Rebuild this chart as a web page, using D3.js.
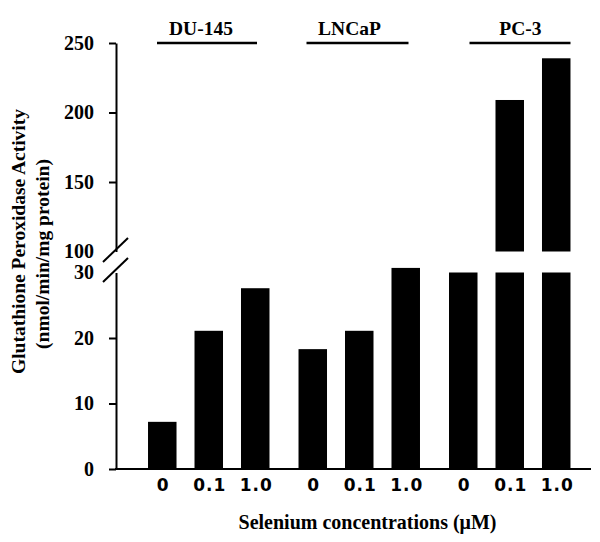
<!DOCTYPE html>
<html>
<head>
<meta charset="utf-8">
<script src="https://cdn.jsdelivr.net/npm/d3@7"></script>
<style>
  html, body { margin: 0; padding: 0; background: #fff; }
  svg { display: block; }
  .serif { font-family: "Liberation Serif", "Times New Roman", serif; font-weight: bold; fill: #000; }
  .sans { font-family: "DejaVu Sans", "Liberation Sans", Arial, sans-serif; font-weight: bold; fill: #000; }
</style>
</head>
<body>
<svg id="chart" width="600" height="542"></svg>
<script>
// ---- data ----
const groups = ["DU-145", "LNCaP", "PC-3"];
const concentrations = ["0", "0.1", "1.0"];
const du145 = [7.2, 21.1, 27.6];
const lncap = [18.3, 21.1, 30.7];
const pc3 = [35, 209, 239];
const lowerTicks = [0, 10, 20, 30];
const upperTicks = [100, 150, 200, 250];
const breakLow = 30;
const breakHigh = 100;
const yTitleLines = ["Glutathione Peroxidase Activity", "(nmol/min/mg protein)"];
const xTitle = "Selenium concentrations (\u03BCM)";

const seriesByGroup = [du145, lncap, pc3];
const rows = [];
groups.forEach((g, gi) => concentrations.forEach((c, ci) => rows.push({ group: g, conc: c, value: seriesByGroup[gi][ci] })));

// ---- layout ----
const axisX = 116;
const xAxisEnd = 591;
const lowerPanelMax = 31;   // values above this are drawn broken
const svg = d3.select("#chart");

const yLow = d3.scaleLinear().domain([0, 30]).range([469, 272.5]);
const yUp = d3.scaleLinear().domain([100, 250]).range([251.5, 43]);

const xGroup = d3.scaleBand().domain(groups).range([139, 579.5]).paddingInner(0.073);
const xInner = d3.scaleBand().domain(concentrations).range([0, xGroup.bandwidth()]).paddingInner(0.387).paddingOuter(0.194);
const barX = d => xGroup(d.group) + xInner(d.conc);
const bw = xInner.bandwidth();
const lowTop = v => v > lowerPanelMax ? breakLow : v;

// bars: lower segment
svg.append("g").selectAll("rect").data(rows).join("rect")
  .attr("x", barX)
  .attr("width", bw)
  .attr("y", d => yLow(lowTop(d.value)))
  .attr("height", d => yLow(0) - yLow(lowTop(d.value)))
  .attr("fill", "#000");

// bars: upper segment
svg.append("g").selectAll("rect").data(rows.filter(d => d.value > breakHigh)).join("rect")
  .attr("x", barX)
  .attr("width", bw)
  .attr("y", d => yUp(d.value))
  .attr("height", d => yUp(breakHigh) - yUp(d.value))
  .attr("fill", "#000");

// y axes
function styleAxis(g, breakVal) {
  g.selectAll("path.domain").attr("stroke-width", 2);
  g.selectAll(".tick line").attr("stroke-width", 2)
    .attr("display", d => d === breakVal ? "none" : null);
  g.selectAll(".tick text").attr("class", "serif").style("font-size", "20px");
}
svg.append("g").attr("transform", `translate(${axisX},0)`)
  .call(d3.axisLeft(yLow).tickValues(lowerTicks).tickSize(7).tickSizeOuter(0).tickPadding(15).tickFormat(d3.format("d")))
  .call(g => styleAxis(g, breakLow))
  .attr("font-family", null).attr("font-size", null);
svg.append("g").attr("transform", `translate(${axisX},0)`)
  .call(d3.axisLeft(yUp).tickValues(upperTicks).tickSize(7).tickSizeOuter(0).tickPadding(15).tickFormat(d3.format("d")))
  .call(g => styleAxis(g, breakHigh))
  .attr("font-family", null).attr("font-size", null);

// break slashes
[yUp(breakHigh) - 1.5, yLow(breakLow) - 2.5].forEach(cy => {
  svg.append("line")
    .attr("x1", axisX - 13).attr("y1", cy + 12)
    .attr("x2", axisX + 12).attr("y2", cy - 12)
    .attr("stroke", "#000").attr("stroke-width", 2);
});

// x axis line
svg.append("line")
  .attr("x1", axisX - 1).attr("x2", xAxisEnd)
  .attr("y1", yLow(0)).attr("y2", yLow(0))
  .attr("stroke", "#000").attr("stroke-width", 2);

// x tick labels
svg.append("g").selectAll("text").data(rows).join("text")
  .attr("class", "sans")
  .attr("x", d => barX(d) + bw / 2 + 1)
  .attr("y", 491)
  .attr("text-anchor", "middle")
  .style("font-size", "17px")
  .style("letter-spacing", "1px")
  .text(d => d.conc);

// group labels with lines
const groupLine = { "DU-145": [-51.75, 48.25], "LNCaP": [-52.75, 49.25], "PC-3": [-40.25, 60.75] };
const groupText = { "DU-145": -7.75, "LNCaP": -9.75, "PC-3": 10.75 };
groups.forEach(g => {
  const cx = xGroup(g) + xGroup.bandwidth() / 2;
  svg.append("line")
    .attr("x1", cx + groupLine[g][0]).attr("x2", cx + groupLine[g][1])
    .attr("y1", 43).attr("y2", 43)
    .attr("stroke", "#000").attr("stroke-width", 2.5);
  svg.append("text").attr("class", "serif")
    .attr("x", cx + groupText[g]).attr("y", 35)
    .attr("text-anchor", "middle")
    .style("font-size", "19.5px")
    .text(g);
});

// axis titles
svg.append("text").attr("class", "serif")
  .attr("transform", "translate(25,241.5) rotate(-90)")
  .attr("text-anchor", "middle")
  .style("font-size", "19.5px")
  .text(yTitleLines[0]);
svg.append("text").attr("class", "serif")
  .attr("transform", "translate(49,254) rotate(-90)")
  .attr("text-anchor", "middle")
  .style("font-size", "19.5px")
  .text(yTitleLines[1]);
svg.append("text").attr("class", "serif")
  .attr("x", 367.5).attr("y", 529)
  .attr("text-anchor", "middle")
  .style("font-size", "20px")
  .text(xTitle);
</script>
</body>
</html>
